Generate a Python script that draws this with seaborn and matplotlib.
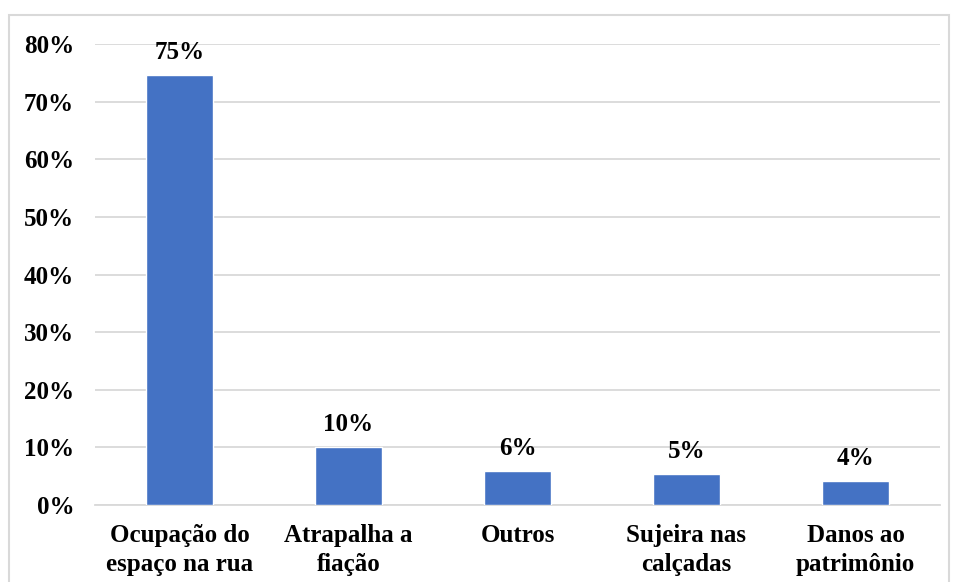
import matplotlib
matplotlib.use("Agg")
import matplotlib.pyplot as plt
import seaborn as sns
import pandas as pd
from matplotlib.patches import Rectangle

categories = ["Ocupação do\nespaço na rua", "Atrapalha a\nfiação", "Outros",
              "Sujeira nas\ncalçadas", "Danos ao\npatrimônio"]
shares = [74.6, 10.1, 5.9, 5.4, 4.2]
y_ticks = [0, 10, 20, 30, 40, 50, 60, 70, 80]

sns.set_theme(style="white")
plt.rcParams["font.family"] = ["Liberation Serif", "DejaVu Serif"]
plt.rcParams["font.weight"] = "bold"

df = pd.DataFrame({"categoria": categories, "valor": [v / 100 for v in shares]})

fig = plt.figure(figsize=(9.54, 5.82), dpi=100)
ax = fig.add_axes([95 / 954, 1 - 505 / 582, 845 / 954, 461 / 582])

# light frame around the chart area
fig.patches.append(Rectangle((9 / 954, -0.05), 940 / 954, 1 - 15 / 582 + 0.05,
                             transform=fig.transFigure, fill=False,
                             edgecolor="#D9D9D9", linewidth=1.5, zorder=0))

sns.barplot(data=df, x="categoria", y="valor", color="#4472C4", saturation=1,
            width=0.4, ax=ax, zorder=3)

ax.set_ylim(0, 0.8)
ax.set_xlim(-0.5, len(categories) - 0.5)
ax.set_yticks([t / 100 for t in y_ticks])
ax.set_yticklabels([f"{t}%" for t in y_ticks])
ax.yaxis.grid(True, color="#D9D9D9", linewidth=1.3, zorder=0)
ax.set_axisbelow(True)
for s in ["top", "right", "left"]:
    ax.spines[s].set_visible(False)
ax.spines["bottom"].set_color("#D9D9D9")
ax.spines["bottom"].set_linewidth(1.3)
ax.tick_params(axis="both", length=0, labelsize=18, colors="black")
ax.tick_params(axis="y", pad=15)
ax.tick_params(axis="x", pad=14)
for lbl in ax.get_xticklabels() + ax.get_yticklabels():
    lbl.set_fontweight("bold")
    lbl.set_linespacing(1.3)
ax.set_xlabel("")
ax.set_ylabel("")

for i, v in enumerate(shares):
    ax.annotate(f"{round(v)}%", (i, v / 100), xytext=(0, 8),
                textcoords="offset points", ha="center", va="bottom",
                fontsize=18, fontweight="bold", color="black")

fig.savefig("out.png", dpi=100)
